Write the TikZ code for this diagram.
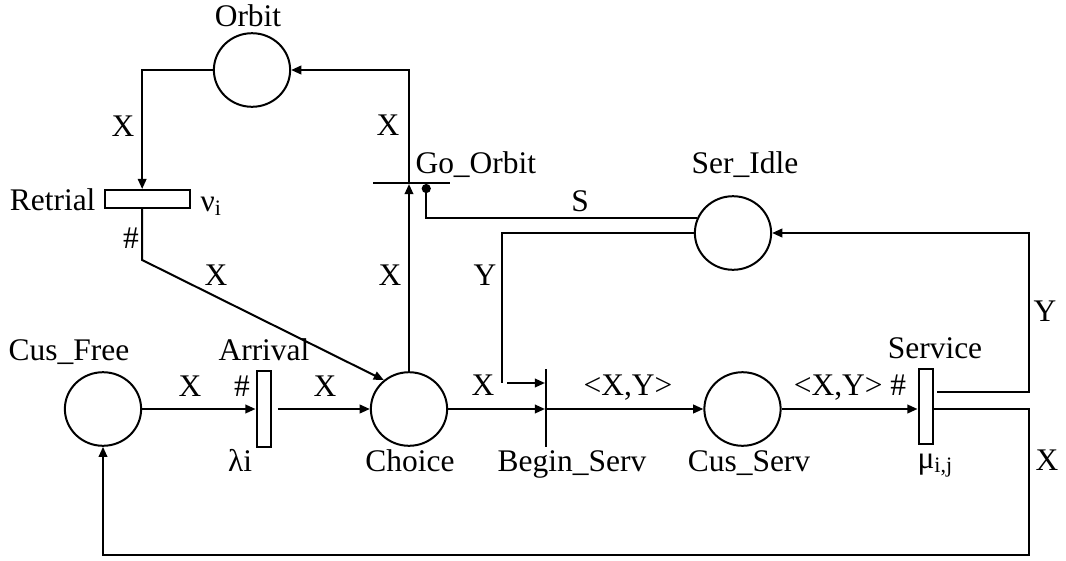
\documentclass[tikz,border=0pt]{standalone}
\usepackage{fontspec}
\setmainfont{Liberation Serif}
\usetikzlibrary{arrows.meta}
\usetikzlibrary{shapes.geometric}
\tikzset{
      place/.style={ellipse, draw, line width=0.75pt, minimum width=28.6pt, minimum height=27.6pt, inner sep=0pt},
      timed/.style={rectangle, draw, line width=0.75pt, inner sep=0pt, minimum width=5.6pt, minimum height=28.2pt},
      immed/.style={rectangle, fill=black, inner sep=0pt, outer sep=0pt},
      flow/.style={line width=0.75pt, -{Triangle[length=3.8pt,width=3.2pt]}},
      inhib/.style={line width=0.75pt, -{Circle[length=3.4pt]}},
      lbl/.style={anchor=base, inner sep=0pt},
}

\begin{document}
\begin{tikzpicture}[x=15pt, y=15pt, font=\fontsize{11.8pt}{14pt}\selectfont]
        \useasboundingbox (0,0) rectangle (26.65,14);

        % Places and transitions
        \node[place] (orbit) at (6.3,12.25) {};
        \node[timed, minimum width=31.9pt, minimum height=6.75pt] (retrial) at (3.6875,9.025) {};
        \node[immed, minimum width=28.9pt, minimum height=0.75pt] (goorbit) at (10.29,9.425) {};
        \node[place] (seridle) at (18.325,8.175) {};
        \node[place] (cusfree) at (2.575,3.775) {};
        \node[timed] (arrival) at (6.6,3.775) {};
        \node[place] (choice) at (10.225,3.775) {};
        \node[immed, minimum width=0.75pt, minimum height=28.9pt] (beginserv) at (13.65,3.8) {};
        \node[place] (cusserv) at (18.5625,3.775) {};
        \node[timed] (service) at (23.15,3.8375) {};

        % Names and rates
        \node[lbl] (lorbit) at (6.2,13.35) {Orbit};
        \node[lbl, anchor=base east] (lretrial) at (2.4,8.75) {Retrial};
        \node[lbl, anchor=base west] (nu) at (5.0,8.725) {ν\textsubscript{i}};
        \node[lbl, anchor=base west] (lgoorbit) at (10.375,9.675) {Go\_Orbit};
        \node[lbl] (lseridle) at (18.625,9.675) {Ser\_Idle};
        \node[lbl] (lcusfree) at (1.725,5.0) {Cus\_Free};
        \node[lbl] (larrival) at (6.6,5.0) {Arrival};
        \node[lbl] (lambda) at (6.0,2.21) {λi};
        \node[lbl] (lchoice) at (10.25,2.21) {Choice};
        \node[lbl] (lbeginserv) at (14.3,2.21) {Begin\_Serv};
        \node[lbl] (lcusserv) at (18.725,2.21) {Cus\_Serv};
        \node[lbl] (lservice) at (23.375,5.05) {Service};
        \node[lbl, anchor=base west] (mu) at (22.925,2.3) {μ\textsubscript{i,j}};

        % Retrial loop
        \draw[flow] (orbit.west) -| ([xshift=-2pt]retrial.north);
        \node[lbl] (a1) at (3.075,10.6) {X};
        \draw[flow] ([xshift=-2pt]retrial.south) -- ++(0,-1.275) -- (choice.131);
        \node[lbl] (a2) at (3.275,7.8) {\#};
        \node[lbl] (a3) at (5.4,6.875) {X};
        \draw[flow] (choice.north) -- (choice.north |- goorbit.south);
        \node[lbl] (a4) at (9.75,6.875) {X};
        \draw[flow] (choice.north |- goorbit.north) |- (orbit.east);
        \node[lbl] (a5) at (9.7,10.625) {X};
        \draw[inhib] (seridle.157) -| ([xshift=5.5pt]goorbit.south);
        \node[lbl] (a6) at (14.5,8.71) {S};

        % Customers through service
        \draw[flow] (cusfree.east) -- (arrival.west);
        \node[lbl] (a7) at (4.75,4.1) {X};
        \node[lbl] (a8) at (6.05,4.1) {\#};
        \draw[flow] ([xshift=2pt]arrival.east) -- (choice.west);
        \node[lbl] (a9) at (8.125,4.1) {X};
        \draw[flow] (choice.east) -- (choice.east -| beginserv.west);
        \node[lbl] (a10) at (12.075,4.125) {X};
        \coordinate (ybend) at (12.55,4.425);
        \draw[line width=0.75pt] (seridle.west) -| (ybend);
        \draw[flow] ([xshift=2pt]ybend) -- (ybend -| beginserv.west);
        \node[lbl] (a11) at (12.125,6.875) {Y};
        \draw[flow] (cusserv.west -| beginserv.east) -- (cusserv.west);
        \node[lbl] (a12) at (15.7,4.125) {<X,Y>};
        \draw[flow] (cusserv.east) -- (cusserv.east -| service.west);
        \node[lbl] (a13) at (21.25,4.125) {<X,Y> \#};
        \draw[flow] ([shift={(1.1pt,5.4pt)}]service.east) -- ++(2.3,0) |- (seridle.east);
        \node[lbl] (a14) at (26.125,5.96) {Y};
        \draw[flow] (cusserv.east -| service.east) -- ++(2.375,0) -- ++(0,-3.65) -| (cusfree.south);
        \node[lbl] (a15) at (26.175,2.25) {X};

\end{tikzpicture}
\end{document}
